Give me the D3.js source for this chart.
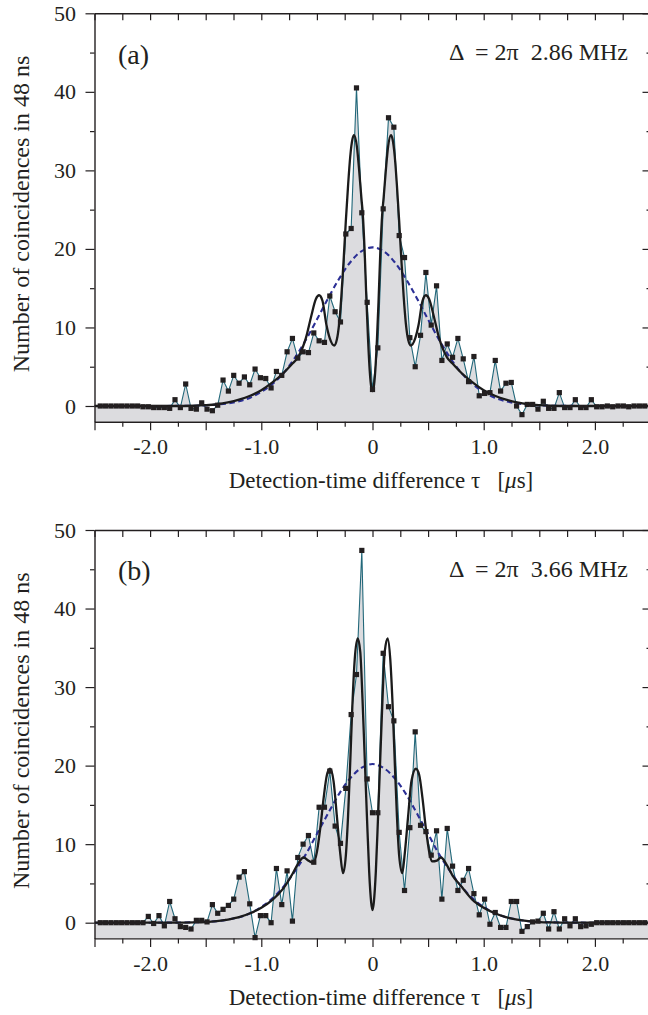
<!DOCTYPE html>
<html><head><meta charset="utf-8">
<script src="https://cdn.jsdelivr.net/npm/d3@7"></script>
<style>
body{margin:0;background:#fff}
svg{display:block}
text{font-family:"Liberation Serif","Times New Roman",Times,serif;fill:#231f20}
</style>
</head><body>
<svg id="chart" width="648" height="1015"></svg>
<script>
// ---- data ----
const binIndex = d3.range(-51, 52);          // 48 ns bins
const binWidthUs = 0.048;

const countsA = [0,0,0,0,0,0,0,0,-0.1,-0.1,-0.2,
 -0.2,-0.2,-0.3,0.8,-0.2,2.8,-0.3,-0.4,0.4,-0.4,
 -0.6,0.1,3.3,1.9,3.9,2.9,3.7,2.7,4.7,3.6,
 3.5,2.3,4.4,3.9,6.9,8.6,6.1,6.9,6.8,9.3,
 8.3,8.1,14.0,12.0,10.7,21.9,22.6,40.5,24.6,13.2,
 2.1,
 7.4,25.1,36.7,35.5,21.7,18.9,8.7,5.0,9.0,17.0,
 10.3,15.3,5.8,7.9,6.2,8.6,6.0,3.1,6.3,1.3,
 1.6,1.7,5.8,1.9,2.9,3.0,0,-1.1,0.2,0.2,
 -0.4,0.6,-0.3,-0.3,1.7,-0.2,-0.2,0.8,-0.2,-0.2,
 0.8,
 -0.1,-0.1,0,-0.1,0,0,-0.1,0,0,0];

const countsB = [0,0,0,0,0,0,0,0,0,
 0.8,-0.1,0.9,-0.4,2.7,0.5,-0.5,-0.6,-0.8,0.3,
 0.3,0.1,2.3,1.2,1.7,2.2,3.0,5.8,6.5,2.4,
 -1.9,0.9,0.9,0,6.9,2.3,6.6,0.2,8.3,10.0,
 11.1,7.7,14.7,14.7,19.3,12.3,10.1,17.1,26.5,31.6,
 47.4,18.3,
 14.0,
 14.0,34.3,27.5,25.7,11.5,4.1,12.1,24.3,12.4,11.6,
 8.6,11.7,3.0,12.0,7.2,4.1,5.4,6.9,3.7,1.0,
 3.0,-0.2,1.3,-0.6,-0.6,2.7,2.7,-1.1,-0.5,0.1,
 0.2,1.2,-0.8,1.4,-0.8,0.5,-0.4,0.5,-0.5,-0.4,-0.2,
 0,0,0,0,0,0,0,0,0,0];

const fitTauA = [-2.5,-1.8,-1.6,-1.5,-1.4,-1.3,-1.2,-1.1,-1.0,-0.9,
 -0.8,-0.72,-0.67,-0.60,-0.55,-0.51,-0.48,-0.45,-0.414,-0.384,
 -0.345,-0.32,-0.30,-0.28,-0.26,-0.24,-0.22,-0.20,-0.18,-0.166,
 -0.14,-0.12,-0.10,-0.088,-0.07,-0.054,-0.04,-0.025,-0.01,0,
 0.01,0.025,0.04,0.054,0.07,0.088,0.10,0.12,0.14,0.166,
 0.18,0.20,0.22,0.24,0.26,0.28,0.30,0.32,0.345,0.384,
 0.414,0.45,0.48,0.51,0.55,0.60,0.67,0.72,0.8,0.9,
 1.0,1.1,1.2,1.3,1.4,1.5,1.6,1.8,2.5];
const fitA = [0,0,0.03,0.1,0.22,0.45,0.8,1.3,2.0,3.0,
 4.2,5.4,6.2,8.6,11.5,13.6,14.1,13.4,10.3,8.6,
 7.7,8.5,10.5,14.0,18.5,23.5,28.0,31.8,34.0,34.5,
 33.0,30.0,26.5,24.6,19.5,13.2,8.5,4.5,2.3,1.9,
 2.3,4.5,8.5,13.2,19.5,24.6,26.5,30.0,33.0,34.5,
 34.0,31.8,28.0,23.5,18.5,14.0,10.5,8.5,7.7,8.6,
 10.3,13.4,14.1,13.6,11.5,8.6,6.2,5.4,4.2,3.0,
 2.0,1.3,0.8,0.45,0.22,0.1,0.03,0,0];

const fitTauB = [-2.5,-1.8,-1.6,-1.5,-1.4,-1.3,-1.2,-1.1,-1.0,-0.9,
 -0.8,-0.72,-0.67,-0.62,-0.575,-0.53,-0.50,-0.47,-0.44,-0.41,
 -0.382,-0.35,-0.32,-0.29,-0.265,-0.24,-0.22,-0.20,-0.18,-0.16,
 -0.133,-0.11,-0.09,-0.07,-0.05,-0.03,-0.012,0,
 0.012,0.03,0.05,0.07,0.09,0.11,0.136,0.16,0.18,0.20,
 0.22,0.24,0.268,0.29,0.32,0.35,0.39,0.42,0.45,0.48,
 0.51,0.535,0.58,0.615,0.67,0.72,0.8,0.9,1.0,1.1,
 1.2,1.3,1.4,1.5,1.6,1.8,2.5];
const fitB = [0,0,0.03,0.08,0.2,0.4,0.7,1.2,1.9,2.9,
 4.4,6.2,7.5,8.3,7.9,7.6,9.0,12.0,15.8,18.8,
 19.6,18.0,13.5,8.8,6.3,8.5,13.5,20.5,28.0,33.5,
 36.2,34.5,28.5,21.0,13.5,6.5,2.6,1.6,
 2.6,6.5,13.5,21.0,28.5,34.5,36.2,33.5,28.0,20.5,
 13.5,8.5,6.3,8.8,13.5,18.0,19.6,18.8,15.8,12.0,
 9.0,7.8,7.9,8.3,7.3,6.0,4.6,2.9,1.9,1.2,
 0.7,0.4,0.2,0.08,0.03,0,0];

const envTau = [-2.5,-2.0,-1.8,-1.6,-1.5,-1.4,-1.3,-1.2,-1.1,-1.0,-0.9,-0.8,-0.7,-0.6,-0.5,-0.4,-0.3,-0.2,-0.1,0,
 0.1,0.2,0.3,0.4,0.5,0.6,0.7,0.8,0.9,1.0,1.1,1.2,1.3,1.4,1.5,1.6,1.8,2.0,2.5];
const envA = [0,0,0.01,0.04,0.08,0.17,0.33,0.6,1.06,1.8,2.8,4.2,6.1,8.4,11.0,13.7,16.2,18.3,19.7,20.2,
 19.7,18.3,16.2,13.7,11.0,8.4,6.1,4.2,2.8,1.8,1.06,0.6,0.33,0.17,0.08,0.04,0.01,0,0];
const envB = [0,0,0.01,0.05,0.1,0.2,0.4,0.7,1.2,2.0,3.1,4.6,6.5,8.7,11.3,13.9,16.4,18.4,19.7,20.2,
 19.7,18.4,16.4,13.9,11.3,8.7,6.5,4.6,3.1,2.0,1.2,0.7,0.4,0.2,0.1,0.05,0.01,0,0];

const yMajorTicks = [0,10,20,30,40,50];
const yMinorTicks = [5,15,25,35,45];
const xMajorTicks = [-2.5,-2,-1.5,-1,-0.5,0,0.5,1,1.5,2,2.5];
const xMinorTicks = [-2.25,-1.75,-1.25,-0.75,-0.25,0.25,0.75,1.25,1.75,2.25];
const xTickLabels = {"-2":"-2.0","-1":"-1.0","0":"0","1":"1.0","2":"2.0"};
const panelLabels = ["(a)","(b)"];
const detunings = ["2.86","3.66"];
const yTitle = "Number of coincidences in 48 ns";

// ---- drawing ----
const svg = d3.select("#chart");
const x = d3.scaleLinear().domain([-2.5,2.5]).range([94.5,650.5]);
const offsets = [0, 516.7];
const ink = "#231f20";
const serif = '"Liberation Serif","Times New Roman",Times,serif';

function drawPanel(i, counts, fitTau, fitVals, envVals){
  const off = offsets[i];
  const y = d3.scaleLinear().domain([-2,50]).range([421.7+off, 13.3+off]);
  const g = svg.append("g");
  const clipId = "clip"+i;
  g.append("clipPath").attr("id",clipId).append("rect")
    .attr("x",x(-2.5)).attr("y",y(50)).attr("width",x(2.5)-x(-2.5)).attr("height",y(-2)-y(50));
  const plot = g.append("g").attr("clip-path",`url(#${clipId})`);

  const pts = binIndex.map((k,j)=>({t:k*binWidthUs, v:counts[j]}));
  const areaPts = [{t:-2.5,v:pts[0].v}, ...pts, {t:2.5,v:pts[pts.length-1].v}];

  plot.append("path").datum(areaPts)
    .attr("d", d3.area().x(d=>x(d.t)).y0(y(-2)).y1(d=>y(d.v)))
    .attr("fill","#dcdcdf");

  plot.append("path").datum(areaPts)
    .attr("d", d3.line().x(d=>x(d.t)).y(d=>y(d.v)))
    .attr("fill","none").attr("stroke","#22687a").attr("stroke-width",1.1);

  plot.append("path").datum(envTau.map((t,j)=>({t, v:envVals[j]})))
    .attr("d", d3.line().x(d=>x(d.t)).y(d=>y(d.v)).curve(d3.curveCatmullRom))
    .attr("fill","none").attr("stroke","#2b2f95").attr("stroke-width",2.1)
    .attr("stroke-dasharray","5.5,3.5");

  plot.append("path").datum(fitTau.map((t,j)=>({t, v:fitVals[j]})))
    .attr("d", d3.line().x(d=>x(d.t)).y(d=>y(d.v)).curve(d3.curveMonotoneX))
    .attr("fill","none").attr("stroke","#1b1b1b").attr("stroke-width",2.3);

  g.selectAll("rect.pt").data(pts).enter().append("rect").attr("class","pt")
    .attr("x",d=>x(d.t)-2.6).attr("y",d=>y(d.v)-2.6)
    .attr("width",5.2).attr("height",5.2).attr("fill",ink);

  // axes
  const style = sel => { sel.selectAll("path,line").attr("stroke",ink); sel.select(".domain").attr("stroke-width",1.4); sel.selectAll(".tick line").attr("stroke-width",1.2); };
  const labelStyle = s => s.selectAll("text").attr("font-size",22).attr("fill",ink).attr("font-family",serif);

  g.append("g").attr("transform",`translate(${x(-2.5)},0)`)
    .call(d3.axisLeft(y).tickValues(yMajorTicks).tickSize(9).tickSizeOuter(0).tickPadding(9.5).tickFormat(d3.format("d")))
    .call(style).call(labelStyle);
  g.append("g").attr("transform",`translate(${x(-2.5)},0)`)
    .call(d3.axisLeft(y).tickValues(yMinorTicks).tickSize(4.5).tickFormat(""))
    .call(style).call(s=>s.select(".domain").remove());

  g.append("g").attr("transform",`translate(${x(2.5)},0)`)
    .call(d3.axisLeft(y).tickValues(yMajorTicks).tickSize(8).tickSizeOuter(0).tickFormat(""))
    .call(style);
  g.append("g").attr("transform",`translate(${x(2.5)},0)`)
    .call(d3.axisLeft(y).tickValues(yMinorTicks).tickSize(4).tickFormat(""))
    .call(style).call(s=>s.select(".domain").remove());

  g.append("g").attr("transform",`translate(0,${y(50)})`)
    .call(d3.axisBottom(x).tickValues(xMajorTicks.concat(xMinorTicks)).tickSize(7).tickSizeOuter(0).tickFormat(""))
    .call(style);

  g.append("g").attr("transform",`translate(0,${y(-2)})`)
    .call(d3.axisBottom(x).tickValues(xMajorTicks).tickSize(8.5).tickSizeOuter(0).tickPadding(8.5)
      .tickFormat(d=> xTickLabels[String(d)] || ""))
    .call(style).call(labelStyle);
  g.append("g").attr("transform",`translate(0,${y(-2)})`)
    .call(d3.axisBottom(x).tickValues(xMinorTicks).tickSize(5).tickFormat(""))
    .call(style).call(s=>s.select(".domain").remove());

  // titles & annotations
  g.append("text").attr("transform","rotate(-90)")
    .attr("x",-(214+off)).attr("y",28.5).attr("text-anchor","middle")
    .attr("font-size",24).text(yTitle);

  const xt = g.append("text").attr("x",381).attr("y",488+off).attr("text-anchor","middle").attr("font-size",23)
    .style("white-space","pre");
  xt.append("tspan").text("Detection-time difference τ   [");
  xt.append("tspan").attr("font-style","italic").text("μ");
  xt.append("tspan").text("s]");

  g.append("text").attr("x",118).attr("y",63.5+off).attr("font-size",28).text(panelLabels[i]);

  g.append("text").attr("x",628).attr("y",60+off).attr("text-anchor","end").attr("font-size",24)
    .style("white-space","pre").text(`Δ  = 2π  ${detunings[i]} MHz`);
}

drawPanel(0, countsA, fitTauA, fitA, envA);
drawPanel(1, countsB, fitTauB, fitB, envB);
</script>
</body></html>
